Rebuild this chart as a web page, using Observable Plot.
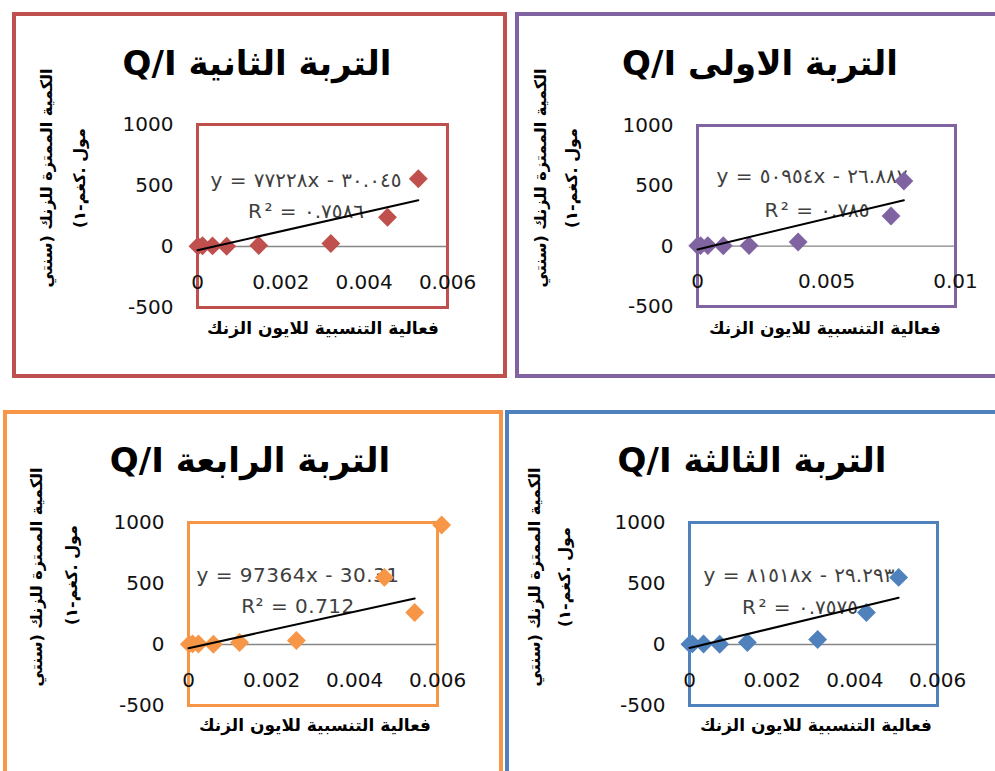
<!DOCTYPE html>
<html><head><meta charset="utf-8">
<script src="https://cdn.jsdelivr.net/npm/d3@7"></script>
<script src="https://cdn.jsdelivr.net/npm/@observablehq/plot@0.6"></script>
<style>
body{margin:0;background:#fff}
#root{position:relative;width:995px;height:771px;overflow:hidden;font-family:"DejaVu Sans",sans-serif;background:#fff}
.abs{position:absolute;white-space:nowrap;transform:translate(-50%,-50%);line-height:1}
.box{position:absolute;box-sizing:border-box;border-style:solid;border-width:4px;background:#fff}
.plotsvg{position:absolute}
</style></head>
<body><div id="root"></div>
<script>
// ---- data ----
const soilNames = ["التربة الثانية", "التربة الاولى", "التربة الرابعة", "التربة الثالثة"];
const soilColors = ["#c0504d", "#8064a2", "#f79646", "#4f81bd"];

const soil2X = [0.00001, 0.00012, 0.00036, 0.0007, 0.00147, 0.0032, 0.00456, 0.0053];
const soil2Y = [3, 6, 5, 2, 8, 25, 240, 555];
const soil1X = [0.00001, 0.00012, 0.0004, 0.001, 0.002, 0.0039, 0.0075, 0.008];
const soil1Y = [3, 5, 5, 3, 5, 35, 250, 540];
const soil4X = [0.00002, 0.0001, 0.00024, 0.0006, 0.00123, 0.0026, 0.00472, 0.00545, 0.0061];
const soil4Y = [3, 5, 4, 2, 16, 33, 550, 262, 980];
const soil3X = [0.00001, 0.00007, 0.00034, 0.00073, 0.0014, 0.0031, 0.00428, 0.00506];
const soil3Y = [3, 5, 4, 2, 16, 41, 262, 550];

const trendSlope = [77228, 50954, 74700, 81518];
const trendIntercept = [-30.045, -26.887, -30.31, -29.293];
const trendEndX = [0.0053, 0.008, 0.00545, 0.00506];

const eqLabels = ["y = ٧٧٢٢٨x - ٣٠.٠٤٥", "y = ٥٠٩٥٤x - ٢٦.٨٨٧", "y = 97364x - 30.31", "y = ٨١٥١٨x - ٢٩.٢٩٣"];
const r2Labels = ["R² = ٠.٧٥٨٦", "R² = ٠.٧٨٥", "R² = 0.712", "R² = ٠.٧٥٧٥"];
const eqArabicDigits = [true, true, false, true];

const yTicks = [-500, 0, 500, 1000];
const xTicksA = [0, 0.002, 0.004, 0.006];
const xTicksB = [0, 0.005, 0.01];
const xMax = [0.006, 0.01, 0.006, 0.006];

const yTitle1 = "الكمية الممتزة للزنك (سنتي";
const yTitle2 = "مول .كغم-١)";
const xTitle = "فعالية التنسبية للايون الزنك";

// ---- layout ----
const layout = [
  {box:[12,12,495,366], frame:[197,124,250,183], title:[257,63], yt1:[47,178], yt2:[80,178], xt:[323,328], eq:[306,180], r2:[306,211]},
  {box:[515,12,485,366], frame:[697,125,258,181], title:[760,63], yt1:[541,178], yt2:[572,178], xt:[825,328], eq:[812,176], r2:[817,210]},
  {box:[3,410,500,400], frame:[188,522,249,183], title:[250,460], yt1:[37,577], yt2:[72,575], xt:[315,725], eq:[298,575], r2:[298,606]},
  {box:[505,410,500,400], frame:[689,522,248,183], title:[752,460], yt1:[535,577], yt2:[565,577], xt:[816,725], eq:[799,575], r2:[800,607]}
];
const seriesX = [soil2X, soil1X, soil4X, soil3X];
const seriesY = [soil2Y, soil1Y, soil4Y, soil3Y];
const xTickSets = [xTicksA, xTicksB, xTicksA, xTicksA];

const root = document.getElementById("root");
function label(text, [x, y], style, rot) {
  const d = document.createElement("div");
  d.className = "abs";
  d.textContent = text;
  d.style.left = x + "px"; d.style.top = y + "px";
  Object.assign(d.style, style);
  if (rot) d.style.transform = "translate(-50%,-50%) rotate(-90deg)";
  root.appendChild(d);
}

layout.forEach((L, i) => {
  const color = soilColors[i];
  const b = document.createElement("div");
  b.className = "box";
  b.style.left = L.box[0] + "px"; b.style.top = L.box[1] + "px";
  b.style.width = L.box[2] + "px"; b.style.height = L.box[3] + "px";
  b.style.borderColor = color;
  root.appendChild(b);

  label("Q/I " + soilNames[i], L.title, {fontSize: "34px", fontWeight: "bold", color: "#000", direction: "ltr"});
  label(yTitle1, L.yt1, {fontSize: "16px", fontWeight: "bold", color: "#000", direction: "rtl"}, true);
  label(yTitle2, L.yt2, {fontSize: "16px", fontWeight: "bold", color: "#000", direction: "rtl"}, true);
  label(xTitle, L.xt, {fontSize: "17px", fontWeight: "bold", color: "#000", direction: "rtl"});
  const ls = eqArabicDigits[i] ? "2.5px" : "0.5px";
  const ws = eqArabicDigits[i] ? "-4px" : "0px";
  label(eqLabels[i], L.eq, {fontSize: "20px", color: "#404040", direction: "ltr", letterSpacing: ls, wordSpacing: ws});
  label(r2Labels[i], L.r2, {fontSize: "20px", color: "#404040", direction: "ltr", letterSpacing: ls, wordSpacing: ws});

  const pts = seriesX[i].map((x, k) => ({x, y: seriesY[i][k]}));
  const trend = [0, trendEndX[i]].map(x => ({x, y: trendSlope[i] * x + trendIntercept[i]}));
  const ml = 100, mr = 40, mt = 20, mb = 20;
  const [fx, fy, fw, fh] = L.frame;
  const svg = Plot.plot({
    width: fw + ml + mr, height: fh + mt + mb,
    marginLeft: ml, marginRight: mr, marginTop: mt, marginBottom: mb,
    x: {domain: [0, xMax[i]], axis: null},
    y: {domain: [-500, 1000], axis: null},
    style: {background: "transparent", overflow: "visible", fontFamily: "DejaVu Sans", color: "#000"},
    marks: [
      Plot.ruleY([0], {stroke: "#868686", strokeWidth: 1.3}),
      Plot.frame({stroke: color, strokeWidth: 3}),
      Plot.axisY(yTicks, {anchor: "left", tickSize: 0, tickPadding: 24, fontSize: 20, fill: "#111", label: null, tickFormat: d => String(d)}),
      Plot.text(xTickSets[i], {x: d => d, frameAnchor: "bottom", lineAnchor: "middle", dy: -25, text: d => String(d), fontSize: 20, fill: "#111"}),
      Plot.dot(pts, {x: "x", y: "y", symbol: "diamond2", r: 8.5, fill: color, stroke: "none"}),
      Plot.line(trend, {x: "x", y: "y", stroke: "#000", strokeWidth: 2})
    ]
  });
  svg.classList.add("plotsvg");
  svg.style.left = (fx - ml) + "px";
  svg.style.top = (fy - mt) + "px";
  root.appendChild(svg);
});
</script></body></html>
